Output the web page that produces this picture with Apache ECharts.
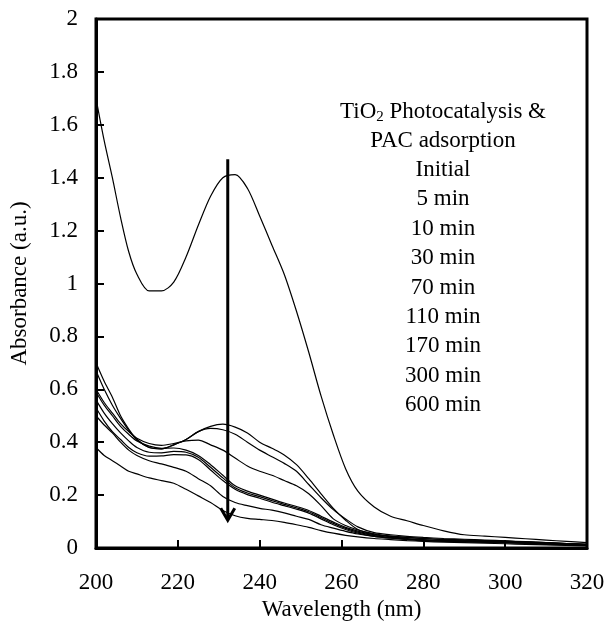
<!DOCTYPE html>
<html>
<head>
<meta charset="utf-8">
<script src="https://cdn.jsdelivr.net/npm/echarts@6/dist/echarts.min.js"></script>
<style>
  html, body { margin: 0; padding: 0; background: #fff; }
  #chart { width: 613px; height: 638px; }
</style>
</head>
<body>
<div id="chart"></div>
<script>
// 파장 (nm)
var wavelengths = [200, 202, 204, 206, 208, 210, 213, 216, 219, 222, 225, 228, 231, 234, 237, 240, 243, 246, 249, 252,
  255, 258, 261, 264, 268, 272, 276, 280, 285, 290, 295, 300, 305, 310, 315, 320];

var seriesNames = ['Initial', '5 min', '10 min', '30 min', '70 min', '110 min', '170 min', '300 min', '600 min'];

var absInitial = [1.70, 1.54, 1.40, 1.25, 1.12, 1.035, 0.972, 0.972, 1.005, 1.10, 1.22, 1.33, 1.40, 1.412, 1.36, 1.255,
  1.145, 1.035, 0.895, 0.74, 0.575, 0.428, 0.30, 0.215, 0.155, 0.12, 0.103, 0.085, 0.065, 0.05, 0.045, 0.04, 0.035, 0.03, 0.025, 0.02];
var abs5 = [0.70, 0.63, 0.57, 0.50, 0.45, 0.41, 0.38, 0.375, 0.39, 0.41, 0.44, 0.46, 0.468, 0.457, 0.435, 0.40,
  0.377, 0.352, 0.315, 0.262, 0.205, 0.15, 0.105, 0.07, 0.052, 0.045, 0.04, 0.036, 0.033, 0.03, 0.028, 0.026, 0.023, 0.02, 0.017, 0.014];
var abs10 = [0.67, 0.60, 0.54, 0.49, 0.445, 0.41, 0.38, 0.375, 0.39, 0.41, 0.44, 0.452, 0.447, 0.43, 0.40, 0.37,
  0.345, 0.32, 0.29, 0.24, 0.19, 0.145, 0.11, 0.08, 0.058, 0.05, 0.044, 0.04, 0.036, 0.033, 0.03, 0.027, 0.024, 0.02, 0.017, 0.014];
var abs30 = [0.60, 0.55, 0.51, 0.47, 0.44, 0.415, 0.395, 0.388, 0.395, 0.405, 0.408, 0.39, 0.37, 0.34, 0.31, 0.29,
  0.275, 0.255, 0.235, 0.205, 0.16, 0.11, 0.085, 0.068, 0.054, 0.045, 0.04, 0.036, 0.032, 0.03, 0.028, 0.026, 0.023, 0.02, 0.017, 0.014];
var abs70 = [0.59, 0.54, 0.50, 0.46, 0.43, 0.405, 0.385, 0.377, 0.378, 0.37, 0.35, 0.315, 0.275, 0.235, 0.215, 0.20,
  0.185, 0.17, 0.157, 0.142, 0.12, 0.098, 0.078, 0.064, 0.05, 0.042, 0.036, 0.032, 0.029, 0.027, 0.025, 0.023, 0.021, 0.018, 0.015, 0.012];
var abs110 = [0.56, 0.51, 0.47, 0.435, 0.405, 0.38, 0.362, 0.36, 0.365, 0.362, 0.343, 0.305, 0.265, 0.228, 0.208, 0.194,
  0.179, 0.165, 0.152, 0.137, 0.115, 0.093, 0.074, 0.06, 0.047, 0.04, 0.034, 0.03, 0.027, 0.025, 0.023, 0.021, 0.019, 0.016, 0.013, 0.011];
var abs170 = [0.53, 0.48, 0.44, 0.41, 0.38, 0.36, 0.347, 0.348, 0.353, 0.352, 0.335, 0.295, 0.255, 0.222, 0.202, 0.188,
  0.173, 0.16, 0.147, 0.132, 0.11, 0.088, 0.07, 0.056, 0.044, 0.037, 0.032, 0.028, 0.025, 0.023, 0.021, 0.019, 0.017, 0.014, 0.012, 0.01];
var abs300 = [0.50, 0.465, 0.435, 0.40, 0.37, 0.35, 0.33, 0.318, 0.305, 0.29, 0.262, 0.235, 0.195, 0.172, 0.16, 0.15,
  0.143, 0.133, 0.12, 0.108, 0.088, 0.075, 0.063, 0.053, 0.044, 0.038, 0.033, 0.03, 0.027, 0.025, 0.023, 0.021, 0.019, 0.016, 0.013, 0.011];
var abs600 = [0.38, 0.35, 0.33, 0.31, 0.29, 0.28, 0.265, 0.255, 0.245, 0.222, 0.197, 0.172, 0.142, 0.122, 0.112, 0.108,
  0.104, 0.097, 0.088, 0.078, 0.066, 0.056, 0.048, 0.042, 0.036, 0.032, 0.028, 0.025, 0.022, 0.02, 0.018, 0.016, 0.014, 0.012, 0.01, 0.008];

var allAbs = [absInitial, abs5, abs10, abs30, abs70, abs110, abs170, abs300, abs600];

// 화살표 (시간 경과 방향)
var arrowX = 232.2;
var arrowTop = 1.47;
var arrowTip = 0.105;

var headerLines = ['{t|TiO}{s|2}{t| Photocatalysis &}', 'PAC adsorption'];

const FONT = 'Liberation Serif';

const drawSpectra = chartId => {
  let myChart = echarts.init(document.getElementById(chartId), null, { renderer: 'canvas' });

  let series = allAbs.map((vals, idx) => ({
    name: seriesNames[idx],
    type: 'line',
    smooth: 0.3,
    symbol: 'none',
    lineStyle: { color: '#000', width: 1.2 },
    data: wavelengths.map((w, i) => [w, vals[i]])
  }));

  // 화살표
  series.push({
    type: 'custom',
    data: [[arrowX, arrowTop, arrowTip]],
    z: 5,
    renderItem: (params, api) => {
      let top = api.coord([api.value(0), api.value(1)]);
      let tip = api.coord([api.value(0), api.value(2)]);
      return {
        type: 'group',
        children: [
          { type: 'line', shape: { x1: top[0], y1: top[1], x2: tip[0], y2: tip[1] - 2 },
            style: { stroke: '#000', lineWidth: 3 } },
          { type: 'polyline', shape: { points: [[tip[0] - 7, tip[1] - 12], [tip[0], tip[1]], [tip[0] + 7, tip[1] - 12]] },
            style: { stroke: '#000', lineWidth: 3, fill: null } }
        ]
      };
    }
  });

  // 범례 텍스트
  let texts = [];
  headerLines.forEach((t, i) => {
    texts.push({ type: 'text', x: 443, y: 112 + i * 29.3,
      style: { text: t, font: '23px "' + FONT + '"', fill: '#000', align: 'center', verticalAlign: 'middle',
        rich: { t: { fontFamily: FONT, fontSize: 23 }, s: { fontFamily: FONT, fontSize: 15, padding: [10, 0, 0, 0] } } } });
  });
  seriesNames.forEach((n, i) => {
    texts.push({ type: 'text', x: 443, y: 170 + i * 29.4,
      style: { text: n, font: '23px "' + FONT + '"', fill: '#000', align: 'center', verticalAlign: 'middle' } });
  });

  let option = {
    animation: false,
    backgroundColor: '#fff',
    grid: { left: 93, right: 26, top: 19, bottom: 90, show: true, borderColor: '#000', borderWidth: 3 },
    xAxis: {
      type: 'value', min: 200, max: 320, interval: 20,
      name: 'Wavelength (nm)', nameLocation: 'middle', nameGap: 44,
      nameTextStyle: { fontFamily: FONT, fontSize: 23, color: '#000' },
      axisLine: { lineStyle: { color: '#000', width: 3 } },
      axisTick: { inside: true, length: 8, lineStyle: { color: '#000', width: 2 } },
      axisLabel: { fontFamily: FONT, fontSize: 23, color: '#000', margin: 23 },
      splitLine: { show: false }
    },
    yAxis: {
      type: 'value', min: 0, max: 2, interval: 0.2,
      name: 'Absorbance (a.u.)', nameLocation: 'middle', nameGap: 65,
      nameTextStyle: { fontFamily: FONT, fontSize: 23, color: '#000' },
      axisLine: { lineStyle: { color: '#000', width: 3 } },
      axisTick: { inside: true, length: 8, lineStyle: { color: '#000', width: 2 } },
      axisLabel: { fontFamily: FONT, fontSize: 23, color: '#000', margin: 18 },
      splitLine: { show: false }
    },
    graphic: texts,
    series: series
  };

  option && myChart.setOption(option);
};

drawSpectra('chart');
</script>
</body>
</html>
